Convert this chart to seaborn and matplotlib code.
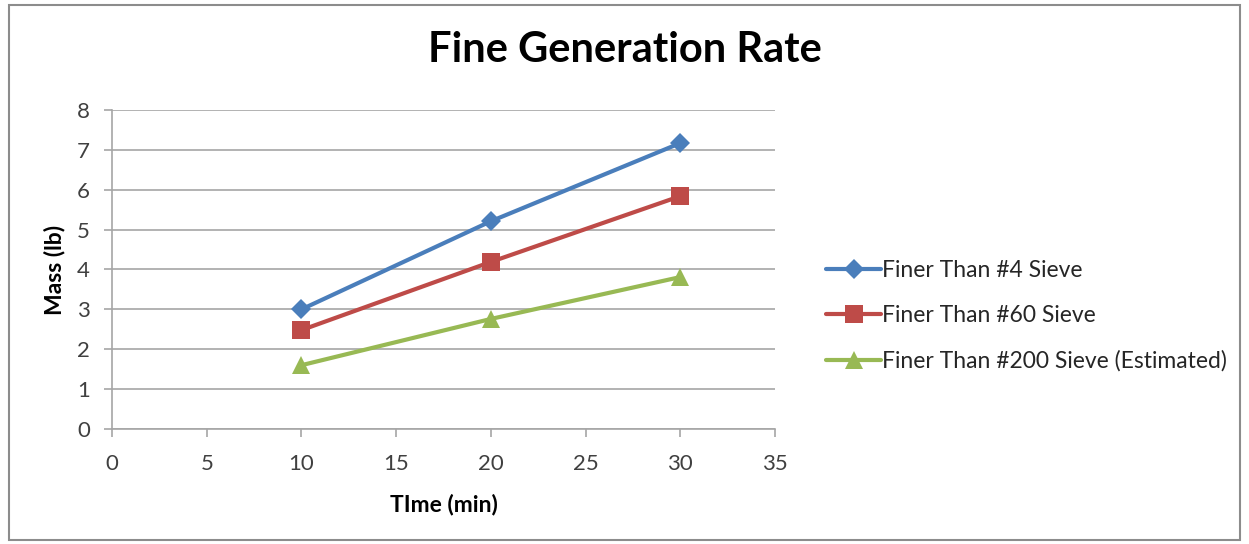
import matplotlib
matplotlib.use("Agg")
import matplotlib.pyplot as plt
import seaborn as sns
import pandas as pd
from matplotlib.patches import Rectangle

# Sampling times (min)
times = [10, 20, 30]
# Mass of fines passing each sieve (lb)
finer_4 = [3.0, 5.21, 7.17]
finer_60 = [2.48, 4.19, 5.84]
finer_200 = [1.6, 2.76, 3.81]

series_names = ["Finer Than #4 Sieve", "Finer Than #60 Sieve",
                "Finer Than #200 Sieve (Estimated)"]
series_values = [finer_4, finer_60, finer_200]
colors = ["#4a7ebb", "#be4b48", "#98b954"]
markers = ["D", "s", "^"]
marker_sizes = [10, 13, 13]

rows = []
for name, vals in zip(series_names, series_values):
    for t, v in zip(times, vals):
        rows.append({"Time": t, "Mass": v, "Series": name})
df = pd.DataFrame(rows)

sns.set_theme(style="white")
plt.rcParams["font.family"] = ["Lato", "DejaVu Sans"]

fig = plt.figure(figsize=(12.49, 5.44), dpi=100)
ax = fig.add_axes([0.0897, 0.2114, 0.5308, 0.5864])

for name, col, mk, ms in zip(series_names, colors, markers, marker_sizes):
    sub = df[df["Series"] == name]
    sns.lineplot(data=sub, x="Time", y="Mass", ax=ax, color=col, marker=mk,
                 markersize=ms, markeredgewidth=0, linewidth=3, label=name,
                 zorder=3)

ax.set_xlim(0, 35)
ax.set_ylim(0, 8)
ax.set_xticks(range(0, 36, 5))
ax.set_yticks(range(0, 9))
ax.yaxis.grid(True, color="#a6a6a6", linewidth=1.2)
ax.xaxis.grid(False)
for s in ["top", "right"]:
    ax.spines[s].set_visible(False)
for s in ["left", "bottom"]:
    ax.spines[s].set_color("#a6a6a6")
    ax.spines[s].set_linewidth(1.2)
ax.tick_params(axis="both", which="major", direction="out", length=6,
               width=1.2, color="#a6a6a6", labelsize=16, labelcolor="#404040",
               left=True, bottom=True)
ax.tick_params(axis="x", pad=12)
ax.tick_params(axis="y", pad=10)

ax.set_xlabel("TIme (min)", fontsize=16.5, fontweight="bold", labelpad=14,
              color="black")
ax.set_ylabel("Mass (lb)", fontsize=16.5, fontweight="bold", labelpad=8,
              color="black")

fig.text(0.5, 0.908, "Fine Generation Rate", ha="center", va="center",
         fontsize=30, fontweight="bold", color="black")

leg = ax.legend(loc="center left", bbox_to_anchor=(1.046, 0.355),
                frameon=False, fontsize=16.5, handlelength=2.4,
                handletextpad=0.05, labelspacing=1.05)
for t in leg.get_texts():
    t.set_color("#262626")

# Outer chart border
fig.patches.append(Rectangle((0.007, 0.008), 0.986, 0.982,
                             transform=fig.transFigure, fill=False,
                             edgecolor="#8c8c8c", linewidth=1.5))

fig.savefig("out.png", dpi=100)
